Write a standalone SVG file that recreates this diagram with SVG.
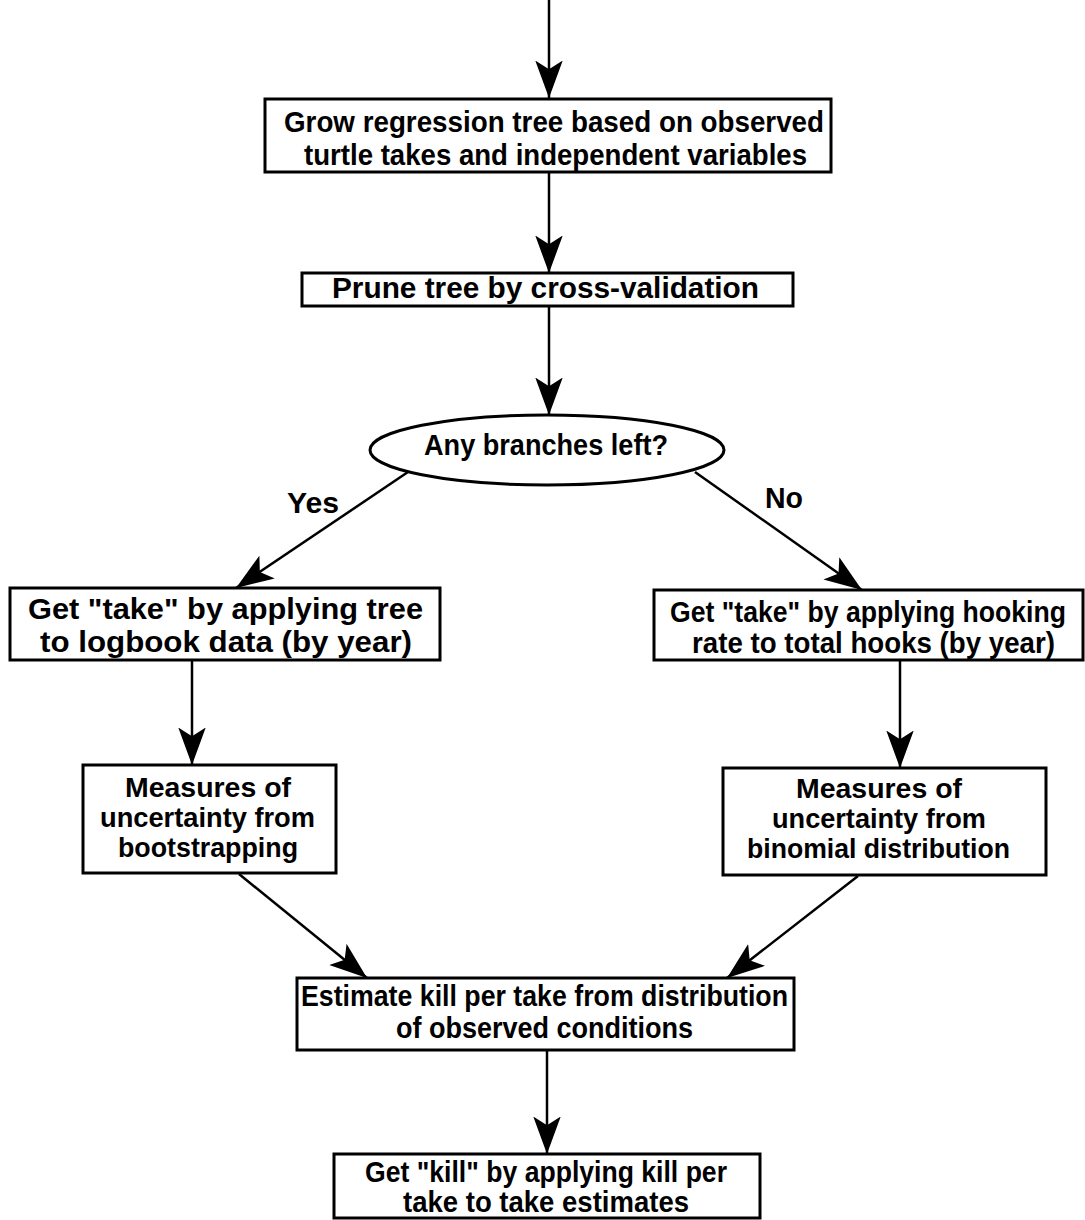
<svg xmlns="http://www.w3.org/2000/svg" width="1085" height="1220" viewBox="0 0 1085 1220">
<style>
.box{fill:#fff;stroke:#000;stroke-width:3}
.t{font-family:"Liberation Sans",Arial,sans-serif;font-size:30px;font-weight:bold;fill:#000}
.s{font-size:27px}
.m{font-size:29px}
.c{stroke:#000;stroke-width:2.5;fill:none;marker-end:url(#ah)}
</style>
<defs>
<marker id="ah" markerUnits="userSpaceOnUse" markerWidth="40" markerHeight="30" viewBox="-30 -12 32 24" refX="0" refY="0" orient="auto">
<path d="M0,0 L-30,-11 L-23,0 L-30,11 Z" fill="#000"/>
</marker>
</defs>
<rect width="1085" height="1220" fill="#fff"/>
<g id="connectors">
<line class="c" x1="549" y1="0" x2="549" y2="98"/>
<line class="c" x1="549" y1="173" x2="549" y2="273"/>
<line class="c" x1="549" y1="306" x2="549" y2="415"/>
<line class="c" x1="408" y1="472" x2="236" y2="588"/>
<line class="c" x1="695" y1="472" x2="862" y2="590"/>
<line class="c" x1="192" y1="660" x2="192" y2="765"/>
<line class="c" x1="900" y1="661" x2="900" y2="768"/>
<line class="c" x1="239" y1="874" x2="367" y2="978"/>
<line class="c" x1="858" y1="876" x2="727" y2="978"/>
<line class="c" x1="547" y1="1051" x2="547" y2="1154"/>
<text class="t" x="287" y="513" textLength="52" lengthAdjust="spacingAndGlyphs">Yes</text>
<text class="t" x="765" y="508" textLength="38" lengthAdjust="spacingAndGlyphs">No</text>
</g>
<g id="n1">
<rect class="box" x="265" y="99" width="566" height="73"/>
<text class="t" x="284" y="132" textLength="540" lengthAdjust="spacingAndGlyphs">Grow regression tree based on observed</text>
<text class="t" x="304" y="165" textLength="503" lengthAdjust="spacingAndGlyphs">turtle takes and independent variables</text>
</g>
<g id="n2">
<rect class="box" x="302" y="273" width="491" height="33"/>
<text class="t" x="332" y="298" textLength="427" lengthAdjust="spacingAndGlyphs">Prune tree by cross-validation</text>
</g>
<g id="n3">
<ellipse cx="547" cy="450" rx="177" ry="35" fill="#fff" stroke="#000" stroke-width="3"/>
<text class="t" x="424" y="455" textLength="244" lengthAdjust="spacingAndGlyphs">Any branches left?</text>
</g>
<g id="n4">
<rect class="box" x="10" y="588" width="430" height="72"/>
<text class="t" x="28" y="619" textLength="395" lengthAdjust="spacingAndGlyphs">Get "take" by applying tree</text>
<text class="t" x="40" y="652" textLength="372" lengthAdjust="spacingAndGlyphs">to logbook data (by year)</text>
</g>
<g id="n5">
<rect class="box" x="654" y="590" width="429" height="70"/>
<text class="t m" x="670" y="622" textLength="396" lengthAdjust="spacingAndGlyphs">Get "take" by applying hooking</text>
<text class="t m" x="692" y="653" textLength="363" lengthAdjust="spacingAndGlyphs">rate to total hooks (by year)</text>
</g>
<g id="n6">
<rect class="box" x="83" y="765" width="253" height="108"/>
<text class="t s" x="125" y="797" textLength="166" lengthAdjust="spacingAndGlyphs">Measures of</text>
<text class="t s" x="100" y="827" textLength="215" lengthAdjust="spacingAndGlyphs">uncertainty from</text>
<text class="t s" x="118" y="857" textLength="180" lengthAdjust="spacingAndGlyphs">bootstrapping</text>
</g>
<g id="n7">
<rect class="box" x="723" y="768" width="323" height="107"/>
<text class="t s" x="796" y="798" textLength="166" lengthAdjust="spacingAndGlyphs">Measures of</text>
<text class="t s" x="772" y="828" textLength="214" lengthAdjust="spacingAndGlyphs">uncertainty from</text>
<text class="t s" x="747" y="858" textLength="263" lengthAdjust="spacingAndGlyphs">binomial distribution</text>
</g>
<g id="n8">
<rect class="box" x="297" y="978" width="497" height="72"/>
<text class="t" x="301" y="1006" textLength="487" lengthAdjust="spacingAndGlyphs">Estimate kill per take from distribution</text>
<text class="t" x="396" y="1038" textLength="297" lengthAdjust="spacingAndGlyphs">of observed conditions</text>
</g>
<g id="n9">
<rect class="box" x="334" y="1154" width="426" height="64"/>
<text class="t" x="365" y="1182" textLength="362" lengthAdjust="spacingAndGlyphs">Get "kill" by applying kill per</text>
<text class="t" x="403" y="1212" textLength="286" lengthAdjust="spacingAndGlyphs">take to take estimates</text>
</g>
</svg>
